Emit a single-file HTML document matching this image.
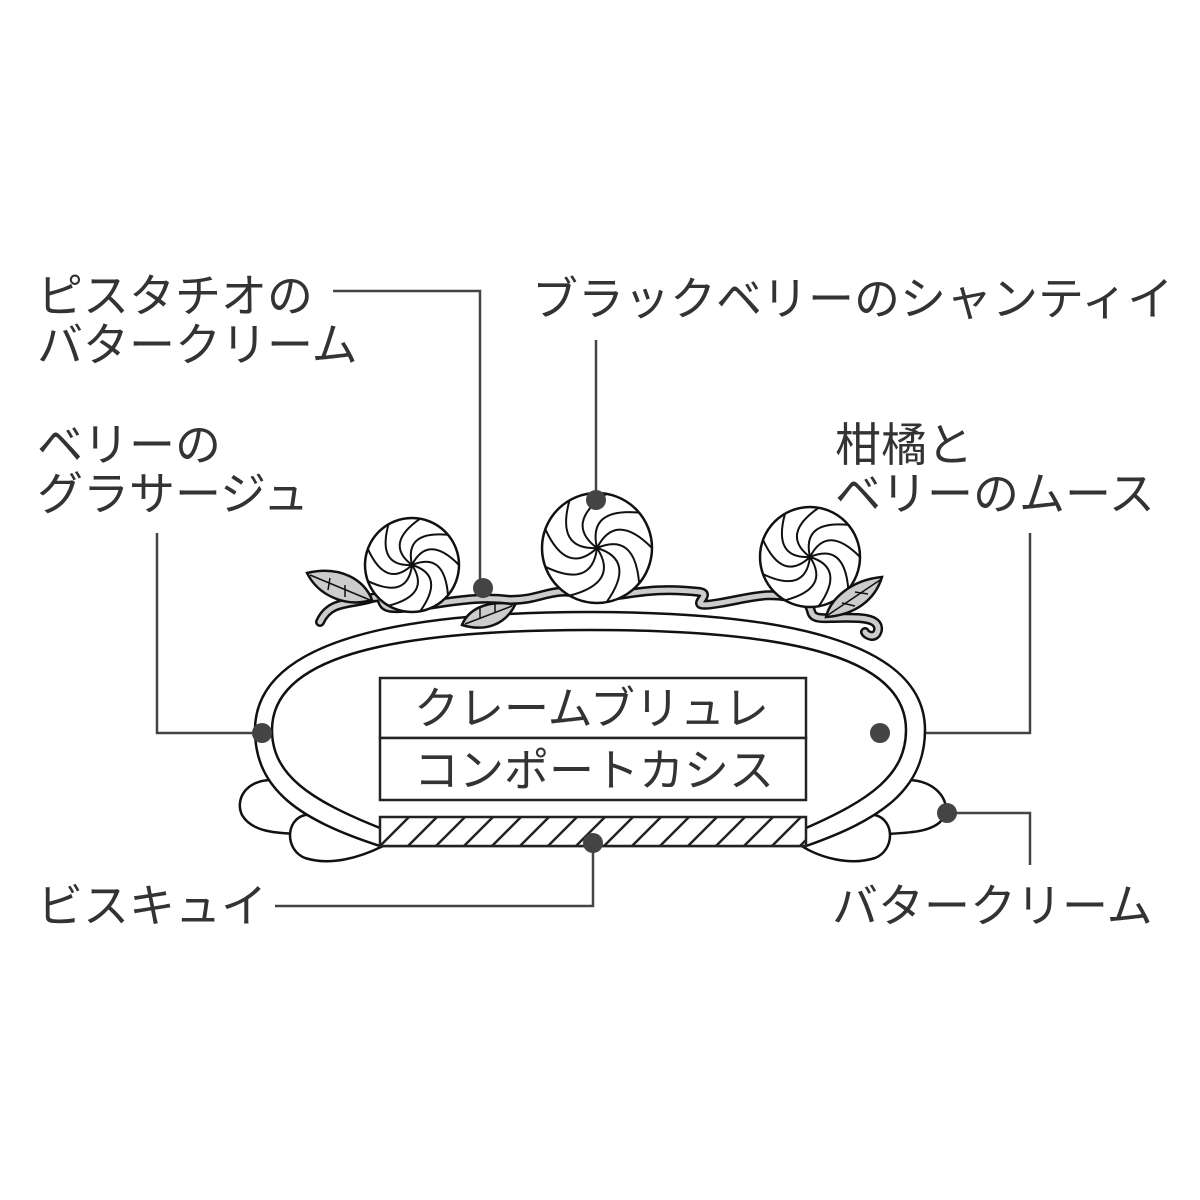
<!DOCTYPE html>
<html><head><meta charset="utf-8"><style>
html,body{margin:0;padding:0;background:#fff;}
svg{display:block}
text{font-family:"Liberation Sans","Noto Sans CJK JP",sans-serif;fill:#333;font-size:46px;}
text.in{font-size:45px;}
</style></head><body>
<svg id="s" width="1200" height="1200" viewBox="0 0 1200 1200" xmlns="http://www.w3.org/2000/svg">
<rect width="1200" height="1200" fill="#fff"/>
<!-- labels -->
<text x="37" y="312">ピスタチオの</text>
<text x="37" y="361">バタークリーム</text>
<text x="37" y="461">ベリーの</text>
<text x="37" y="510">グラサージュ</text>
<text x="532" y="315">ブラックベリーのシャンティイ</text>
<text x="835" y="461">柑橘と</text>
<text x="835" y="510">ベリーのムース</text>
<text x="37" y="922">ビスキュイ</text>
<text x="832" y="922">バタークリーム</text>
<!-- connectors -->
<g stroke="#444" stroke-width="2.5" fill="none">
<polyline points="333,291 480,291 480,588"/>
<polyline points="596,340 596,500"/>
<polyline points="157,533 157,733 262,733"/>
<polyline points="1030,533 1030,733 880,733"/>
<polyline points="275,906 593,906 593,843"/>
<polyline points="947,813 1030,813 1030,865"/>
</g>
<!-- side cream blobs -->
<g stroke="#111" stroke-width="2.5" fill="#fff">
<path d="M272,780 C245,780 235,800 242,815 C252,832 275,833 300,834 L320,800 Z"/>
<path d="M305,815 C285,820 285,850 305,858 C330,866 360,858 385,845 L320,815 Z"/>
<path d="M908,780 C935,780 950,800 945,815 C938,832 910,833 885,834 L860,800 Z"/>
<path d="M875,815 C895,820 895,850 875,858 C850,866 820,858 800,845 L860,815 Z"/>
</g>
<!-- ovals -->
<path d="M380,846 C300,820 255,790 255,730 C255,650 370,612 590,612 C810,612 925,650 925,730 C925,790 880,820 806,846 Z" fill="#fff" stroke="#111" stroke-width="2.5"/>
<path d="M380,828 C310,800 272,775 272,730 C272,660 380,630 590,630 C800,630 906,660 906,730 C906,775 870,800 806,828" fill="none" stroke="#111" stroke-width="2.5"/>
<!-- boxes -->
<g stroke="#222" stroke-width="2.5" fill="#fff">
<rect x="380" y="678" width="426" height="60"/>
<rect x="380" y="738" width="426" height="62"/>
<rect x="380" y="817" width="426" height="29"/>
</g>
<g id="hatch" stroke="#222" stroke-width="2.5"></g>
<text class="in" x="414" y="724">クレームブリュレ</text>
<text class="in" x="414" y="786">コンポートカシス</text>
<!-- vine -->
<path d="M320,622 C330,600 350,605 372,598 C390,593 372,610 400,608 C440,605 470,595 510,600 C545,600 550,585 590,595 C620,600 640,585 700,592 C715,595 680,610 720,603 C750,598 770,590 800,600 C820,606 800,620 830,618 C850,618 880,615 878,630 C876,640 866,635 865,632" fill="none" stroke="#111" stroke-width="10" stroke-linecap="round" stroke-linejoin="round"/>
<path d="M320,622 C330,600 350,605 372,598 C390,593 372,610 400,608 C440,605 470,595 510,600 C545,600 550,585 590,595 C620,600 640,585 700,592 C715,595 680,610 720,603 C750,598 770,590 800,600 C820,606 800,620 830,618 C850,618 880,615 878,630 C876,640 866,635 865,632" fill="none" stroke="#ccc" stroke-width="5" stroke-linecap="round" stroke-linejoin="round"/>
<!-- swirls -->
<g id="sw"></g>
<!-- leaves -->
<g stroke="#111" stroke-width="2.5" fill="#ccc">
<path d="M307,573 C340,565 365,580 372,600 C345,608 318,595 307,573 Z"/>
<path d="M462,625 C470,605 495,600 515,605 C505,625 485,632 462,625 Z"/>
<path d="M882,577 C850,580 830,600 826,617 C855,615 875,600 882,577 Z"/>
</g>
<g stroke="#111" stroke-width="1.5" fill="none">
<path d="M310,575 L370,600 M330,578 L328,590 M345,585 L345,597"/>
<path d="M465,624 L512,606 M480,618 L480,608 M495,612 L495,604"/>
<path d="M880,580 L828,615 M855,592 L868,594 M842,603 L855,606"/>
</g>
<!-- dots -->
<g fill="#444">
<circle cx="483" cy="588" r="10"/><circle cx="596" cy="500" r="10"/>
<circle cx="262" cy="733" r="10"/><circle cx="880" cy="733" r="10"/>
<circle cx="593" cy="843" r="10"/><circle cx="947" cy="813" r="10"/>
</g>
</svg>
<script>
var ns="http://www.w3.org/2000/svg";
var h=document.getElementById('hatch');
for(var x=380;x<806;x+=28){var l=document.createElementNS(ns,'line');var x1=x,y1=846,x2=x+29,y2=817;if(x2>806){y2=846-(806-x);x2=806;}l.setAttribute('x1',x1);l.setAttribute('y1',y1);l.setAttribute('x2',x2);l.setAttribute('y2',y2);h.appendChild(l);}
var g=document.getElementById('sw');
function swirl(cx,cy,r){
 var o=document.createElementNS(ns,'circle');o.setAttribute('cx',cx);o.setAttribute('cy',cy);o.setAttribute('r',r);o.setAttribute('fill','#fff');o.setAttribute('stroke','#111');o.setAttribute('stroke-width','2.5');g.appendChild(o);
 for(var i=0;i<9;i++){var a=i*2*Math.PI/9;var ex=cx+r*Math.cos(a),ey=cy+r*Math.sin(a);var ca=a-1.1;var mx=cx+r*0.75*Math.cos(ca),my=cy+r*0.75*Math.sin(ca);
 var p=document.createElementNS(ns,'path');p.setAttribute('d','M'+cx+','+cy+' Q'+mx+','+my+' '+ex+','+ey);p.setAttribute('fill','none');p.setAttribute('stroke','#111');p.setAttribute('stroke-width','2');g.appendChild(p);}
}
swirl(412,565,47);swirl(597,548,55);swirl(810,557,50);
</script>
</body></html>
